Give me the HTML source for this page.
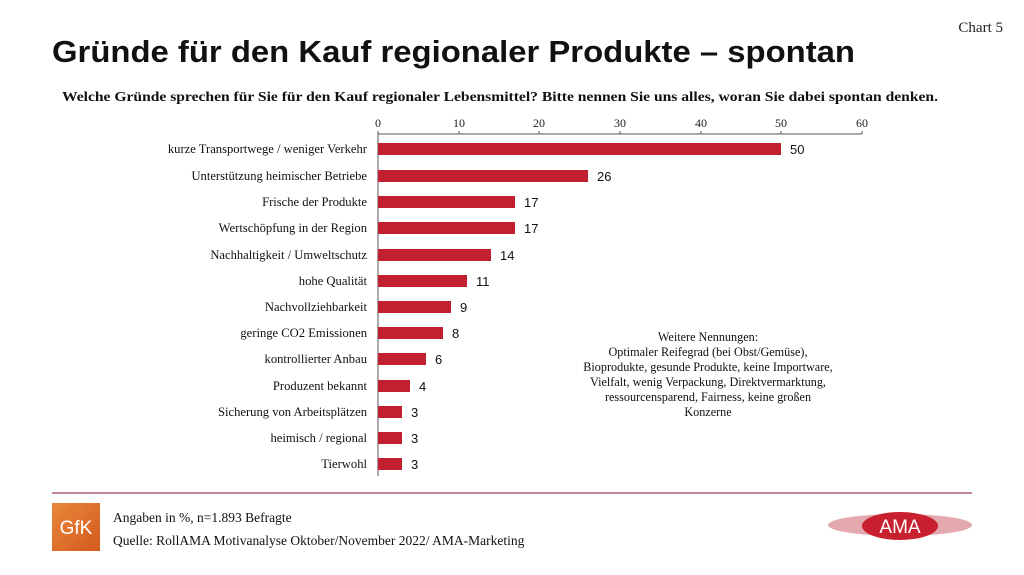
<!DOCTYPE html>
<html><head><meta charset="utf-8"><style>html,body{margin:0;padding:0;background:#fff}svg{display:block}</style></head>
<body>
<svg width="1024" height="575" viewBox="0 0 1024 575" xmlns="http://www.w3.org/2000/svg">
<text x="1003" y="32" font-family="Liberation Serif" font-size="15" text-anchor="end" fill="#222">Chart 5</text>
<text x="52" y="62" font-family="Liberation Sans" font-weight="bold" font-size="31" fill="#111" textLength="803" lengthAdjust="spacingAndGlyphs">Gründe für den Kauf regionaler Produkte – spontan</text>
<text x="62" y="101" font-family="Liberation Serif" font-weight="bold" font-size="14" fill="#111" textLength="876" lengthAdjust="spacingAndGlyphs">Welche Gründe sprechen für Sie für den Kauf regionaler Lebensmittel? Bitte nennen Sie uns alles, woran Sie dabei spontan denken.</text>
<g font-family="Liberation Serif" font-size="12" fill="#222" text-anchor="middle">
<text x="378" y="127">0</text><text x="459" y="127">10</text><text x="539" y="127">20</text><text x="620" y="127">30</text><text x="701" y="127">40</text><text x="781" y="127">50</text><text x="862" y="127">60</text>
</g>
<g stroke="#555" stroke-width="1">
<line x1="378" y1="134" x2="862" y2="134"/>
<line x1="378" y1="134" x2="378" y2="476"/>
<line x1="459" y1="131" x2="459" y2="134"/><line x1="539" y1="131" x2="539" y2="134"/><line x1="620" y1="131" x2="620" y2="134"/><line x1="701" y1="131" x2="701" y2="134"/><line x1="781" y1="131" x2="781" y2="134"/><line x1="862" y1="131" x2="862" y2="134"/><line x1="378" y1="131" x2="378" y2="134"/>
</g>
<g fill="#c0202f">
<rect x="378" y="143" width="403" height="12"/>
<rect x="378" y="170" width="210" height="12"/>
<rect x="378" y="196" width="137" height="12"/>
<rect x="378" y="222" width="137" height="12"/>
<rect x="378" y="249" width="113" height="12"/>
<rect x="378" y="275" width="89" height="12"/>
<rect x="378" y="301" width="73" height="12"/>
<rect x="378" y="327" width="65" height="12"/>
<rect x="378" y="353" width="48" height="12"/>
<rect x="378" y="380" width="32" height="12"/>
<rect x="378" y="406" width="24" height="12"/>
<rect x="378" y="432" width="24" height="12"/>
<rect x="378" y="458" width="24" height="12"/>
</g>
<g font-family="Liberation Sans" font-size="13" fill="#111">
<text x="790" y="154">50</text><text x="597" y="181">26</text><text x="524" y="207">17</text><text x="524" y="233">17</text><text x="500" y="260">14</text><text x="476" y="286">11</text><text x="460" y="312">9</text><text x="452" y="338">8</text><text x="435" y="364">6</text><text x="419" y="391">4</text><text x="411" y="417">3</text><text x="411" y="443">3</text><text x="411" y="469">3</text>
</g>
<g font-family="Liberation Serif" font-size="12.6" fill="#111" text-anchor="end">
<text x="367" y="153">kurze Transportwege / weniger Verkehr</text>
<text x="367" y="180">Unterstützung heimischer Betriebe</text>
<text x="367" y="206">Frische der Produkte</text>
<text x="367" y="232">Wertschöpfung in der Region</text>
<text x="367" y="259">Nachhaltigkeit / Umweltschutz</text>
<text x="367" y="285">hohe Qualität</text>
<text x="367" y="311">Nachvollziehbarkeit</text>
<text x="367" y="337">geringe CO2 Emissionen</text>
<text x="367" y="363">kontrollierter Anbau</text>
<text x="367" y="390">Produzent bekannt</text>
<text x="367" y="416">Sicherung von Arbeitsplätzen</text>
<text x="367" y="442">heimisch / regional</text>
<text x="367" y="468">Tierwohl</text>
</g>
<g font-family="Liberation Serif" font-size="12.2" fill="#111" text-anchor="middle">
<text x="708" y="341">Weitere Nennungen:</text>
<text x="708" y="356">Optimaler Reifegrad (bei Obst/Gemüse),</text>
<text x="708" y="371">Bioprodukte, gesunde Produkte, keine Importware,</text>
<text x="708" y="386">Vielfalt, wenig Verpackung, Direktvermarktung,</text>
<text x="708" y="401">ressourcensparend, Fairness, keine großen</text>
<text x="708" y="416">Konzerne</text>
</g>
<line x1="52" y1="493" x2="972" y2="493" stroke="#b06070" stroke-width="1.5"/>
<defs><linearGradient id="g" x1="0" y1="0" x2="1" y2="1"><stop offset="0" stop-color="#e8883a"/><stop offset="1" stop-color="#d45a1e"/></linearGradient></defs>
<rect x="52" y="503" width="48" height="48" fill="url(#g)"/>
<text x="76" y="534" font-family="Liberation Sans" font-size="19" fill="#fff" text-anchor="middle">GfK</text>
<g font-family="Liberation Serif" font-size="13.5" fill="#111">
<text x="113" y="522">Angaben in %, n=1.893 Befragte</text>
<text x="113" y="545">Quelle: RollAMA Motivanalyse Oktober/November 2022/ AMA-Marketing</text>
</g>
<ellipse cx="900" cy="525" rx="72" ry="11" fill="#e3a9ae"/>
<ellipse cx="900" cy="526" rx="38" ry="14" fill="#c8202e"/>
<text x="900" y="533" font-family="Liberation Sans" font-size="19" fill="#fff" text-anchor="middle">AMA</text>
</svg>
</body></html>
